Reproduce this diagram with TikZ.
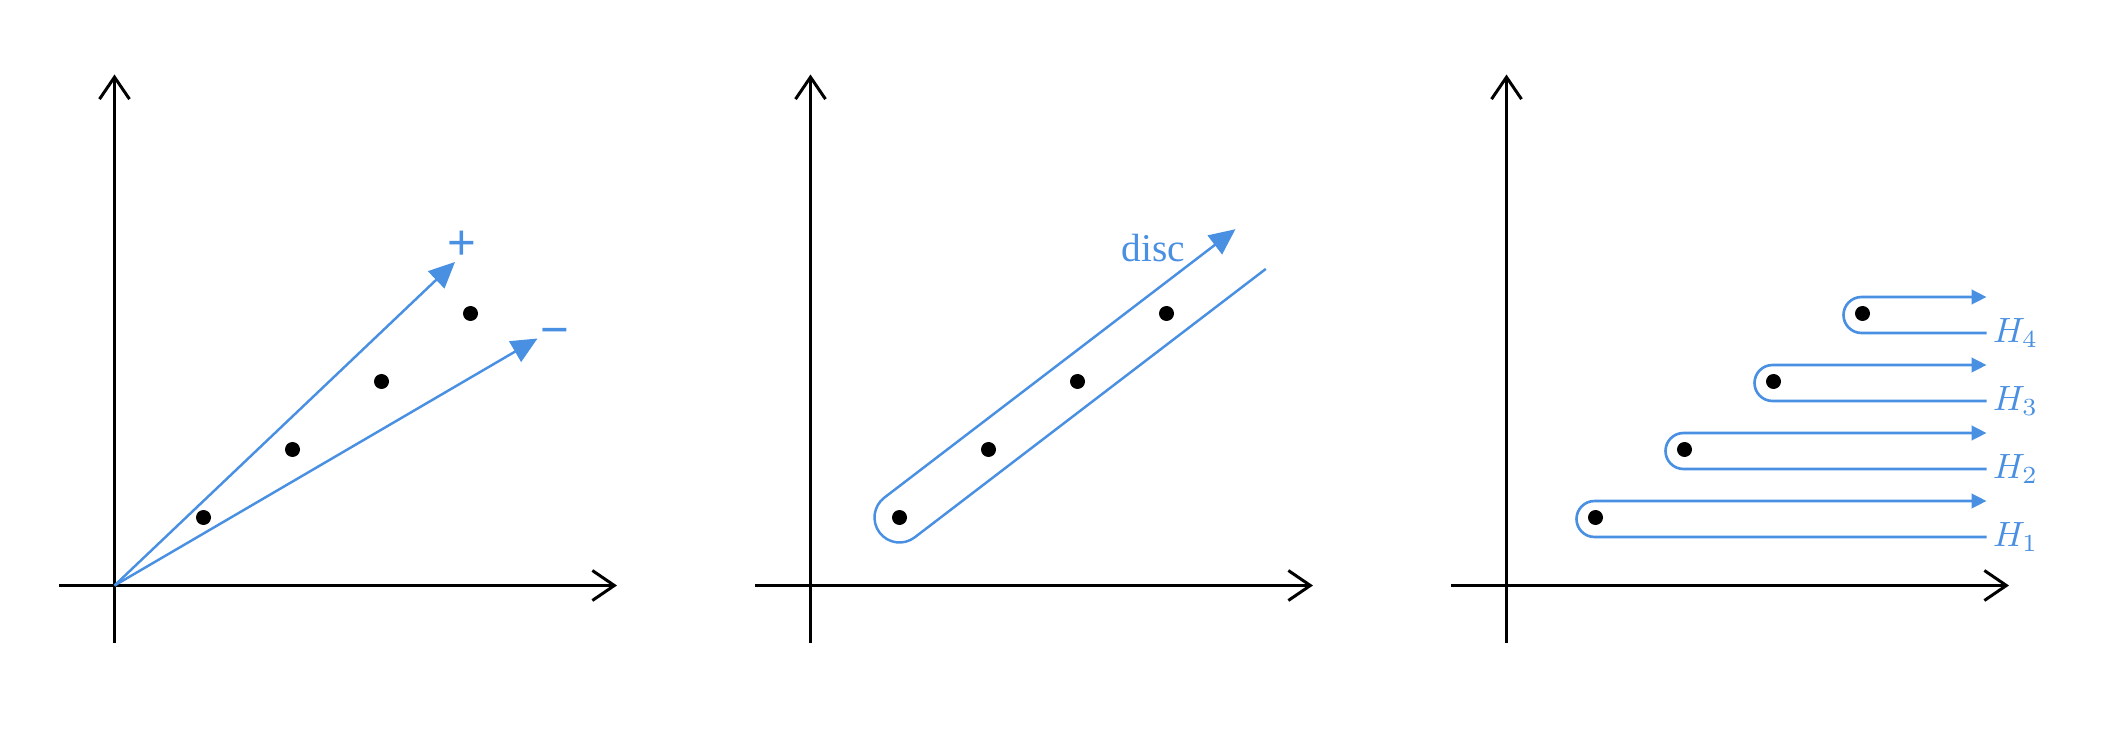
\documentclass[tikz,border=0pt]{standalone}
\usepackage{fontspec}
\newfontfamily\discfont{Liberation Serif}
\newfontfamily\signfont{Liberation Sans}
\usetikzlibrary{arrows.meta}
\definecolor{keyblue}{RGB}{74,144,226}

\begin{document}
\begin{tikzpicture}[>={Straight Barb[length=2.2mm,width=3mm]},
        axis/.style={->,line width=0.85pt},
        dot/.style={circle,fill,inner sep=0pt,minimum size=1.5mm},
        ray/.style={keyblue,line width=0.7pt,-{Triangle[length=2.6mm,width=2.35mm]}},
        hull/.style={keyblue,line width=0.7pt},
        small hull/.style={hull,line width=0.75pt,rounded corners=1.8mm,-{Triangle[length=1.5mm,width=1.45mm]}},
        lab/.style={keyblue,inner sep=1.5pt},
        sign/.style={lab,font=\signfont\fontsize{14}{16}\selectfont}]
        \useasboundingbox (0,0) rectangle (21.07,7.30);

        % left panel: the two rays
        \begin{scope}[shift={(1.145,1.445)}]
        \coordinate (o1) at (0,0);
        \coordinate (xl1) at (-0.555,0);
        \coordinate (xr1) at (5.025,0);
        \coordinate (yb1) at (0,-0.57);
        \coordinate (yt1) at (0,5.11);
        \draw[axis] (xl1) -- (xr1);
        \draw[axis] (yb1) -- (yt1);
        \node[dot] (a1) at (0.89,0.68) {};
        \node[dot] (a2) at (1.78,1.36) {};
        \node[dot] (a3) at (2.67,2.04) {};
        \node[dot] (a4) at (3.56,2.72) {};
        \coordinate (plustip) at (3.405,3.235);
        \coordinate (minustip) at (4.23,2.47);
        \draw[ray] (o1) -- (plustip);
        \draw[ray] (o1) -- (minustip);
        \node[sign] (plus) at (3.47,3.405) {+};
        \node[sign] (minus) at (4.40,2.48) {−};
        \end{scope}

        % middle panel: the disc
        \begin{scope}[shift={(8.105,1.445)}]
        \coordinate (o2) at (0,0);
        \coordinate (xl2) at (-0.555,0);
        \coordinate (xr2) at (5.025,0);
        \coordinate (yb2) at (0,-0.57);
        \coordinate (yt2) at (0,5.11);
        \draw[axis] (xl2) -- (xr2);
        \draw[axis] (yb2) -- (yt2);
        \node[dot] (b1) at (0.89,0.68) {};
        \node[dot] (b2) at (1.78,1.36) {};
        \node[dot] (b3) at (2.67,2.04) {};
        \node[dot] (b4) at (3.56,2.72) {};
        \begin{scope}[shift={(0.89,0.68)},rotate=37.4]
        \draw[hull,-{Triangle[length=2.6mm,width=2.35mm]}] (4.42,-0.25) -- (0,-0.25)
            arc[start angle=-90,end angle=-270,radius=0.25] -- (4.42,0.25);
        \end{scope}
        \node[keyblue,font=\discfont\fontsize{11.2}{13}\selectfont] (disc) at (3.43,3.37) {disc};
        \end{scope}

        % right panel: the H_i
        \begin{scope}[shift={(15.065,1.445)}]
        \coordinate (o3) at (0,0);
        \coordinate (xl3) at (-0.555,0);
        \coordinate (xr3) at (5.025,0);
        \coordinate (yb3) at (0,-0.57);
        \coordinate (yt3) at (0,5.11);
        \draw[axis] (xl3) -- (xr3);
        \draw[axis] (yb3) -- (yt3);
        \node[dot] (c1) at (0.89,0.68) {};
        \node[dot] (c2) at (1.78,1.36) {};
        \node[dot] (c3) at (2.67,2.04) {};
        \node[dot] (c4) at (3.56,2.72) {};
        \draw[small hull] (4.8,0.485) node[lab,anchor=west] (h1) {$H_1$}
            -- (0.70,0.485) -- (0.70,0.845) -- (4.8,0.845);
        \draw[small hull] (4.8,1.165) node[lab,anchor=west] (h2) {$H_2$}
            -- (1.59,1.165) -- (1.59,1.525) -- (4.8,1.525);
        \draw[small hull] (4.8,1.845) node[lab,anchor=west] (h3) {$H_3$}
            -- (2.48,1.845) -- (2.48,2.205) -- (4.8,2.205);
        \draw[small hull] (4.8,2.525) node[lab,anchor=west] (h4) {$H_4$}
            -- (3.37,2.525) -- (3.37,2.885) -- (4.8,2.885);
        \end{scope}
\end{tikzpicture}
\end{document}
